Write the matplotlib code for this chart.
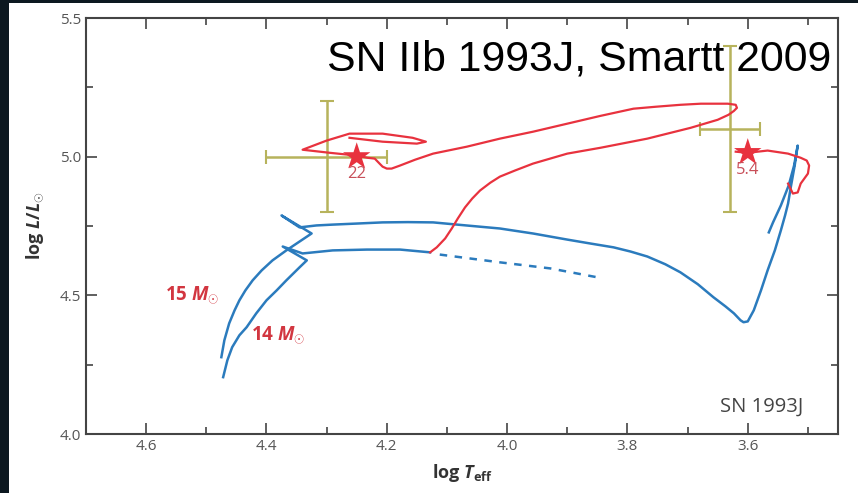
import matplotlib
matplotlib.use("Agg")
import matplotlib.pyplot as plt
from matplotlib.patches import Rectangle
from matplotlib.ticker import MultipleLocator

plt.rcParams["font.family"] = ["Open Sans", "DejaVu Sans"]
plt.rcParams["mathtext.fontset"] = "custom"
plt.rcParams["mathtext.rm"] = "Open Sans:bold"
plt.rcParams["mathtext.it"] = "Open Sans:bold:italic"
plt.rcParams["mathtext.bf"] = "Open Sans:bold"

# 15 Msun single-star track (log Teff, log L)
t15 = [4.475, 4.47, 4.462, 4.453, 4.445, 4.435, 4.423, 4.408, 4.39, 4.367,
       4.345, 4.325, 4.375, 4.345, 4.317, 4.29, 4.248, 4.207, 4.165, 4.123,
       4.068, 4.012, 3.957, 3.90, 3.862, 3.823, 3.795, 3.767, 3.737, 3.712,
       3.683, 3.657, 3.637, 3.623, 3.612, 3.607, 3.60, 3.59, 3.578, 3.567,
       3.555, 3.545, 3.538, 3.533, 3.528, 3.522, 3.517, 3.523, 3.532, 3.545,
       3.558, 3.565]
l15 = [4.277, 4.338, 4.399, 4.446, 4.482, 4.518, 4.554, 4.590, 4.626, 4.662,
       4.694, 4.723, 4.788, 4.745, 4.752, 4.755, 4.759, 4.763, 4.764, 4.763,
       4.752, 4.741, 4.723, 4.701, 4.687, 4.673, 4.658, 4.640, 4.612, 4.583,
       4.540, 4.493, 4.460, 4.435, 4.410, 4.403, 4.406, 4.446, 4.518, 4.590,
       4.662, 4.734, 4.788, 4.831, 4.896, 4.968, 5.040, 4.968, 4.896, 4.824,
       4.763, 4.727]

# 14 Msun track up to the onset of mass transfer
t14 = [4.472, 4.465, 4.457, 4.445, 4.433, 4.417, 4.40, 4.383, 4.367, 4.345,
       4.333, 4.373, 4.34, 4.29, 4.233, 4.178, 4.128]
l14 = [4.205, 4.266, 4.313, 4.356, 4.385, 4.435, 4.482, 4.518, 4.554, 4.601,
       4.626, 4.676, 4.651, 4.662, 4.665, 4.665, 4.655]

# 14 Msun continuation without a companion
t14_single = [4.112, 4.012, 3.928, 3.85]
l14_single = [4.647, 4.619, 4.597, 4.565]

# binary track
t_bin = [4.128, 4.117, 4.103, 4.092, 4.082, 4.07, 4.058, 4.045, 4.028, 4.012,
         3.987, 3.957, 3.90, 3.845, 3.767, 3.695, 3.65, 3.632, 3.623, 3.618,
         3.62, 3.633, 3.678, 3.712, 3.753, 3.79, 3.845, 3.90, 3.957, 4.012,
         4.067, 4.123, 4.153, 4.178, 4.192, 4.20, 4.207, 4.212, 4.22, 4.232,
         4.25, 4.295, 4.34, 4.30, 4.262, 4.207, 4.157, 4.135, 4.15, 4.207,
         4.262]
l_bin = [4.655, 4.673, 4.705, 4.741, 4.777, 4.817, 4.849, 4.878, 4.906, 4.928,
         4.95, 4.975, 5.011, 5.032, 5.065, 5.104, 5.133, 5.151, 5.165, 5.176,
         5.187, 5.191, 5.191, 5.187, 5.180, 5.173, 5.147, 5.119, 5.09, 5.065,
         5.036, 5.011, 4.989, 4.968, 4.957, 4.957, 4.964, 4.975, 4.993, 4.996,
         5.004, 5.014, 5.025, 5.058, 5.083, 5.083, 5.068, 5.054, 5.047, 5.054,
         5.068]

# binary companion near the red supergiant branch
t_rsg = [3.533, 3.525, 3.517, 3.512, 3.50, 3.498, 3.502, 3.512, 3.533, 3.567,
         3.60, 3.62]
l_rsg = [4.903, 4.867, 4.871, 4.903, 4.939, 4.968, 4.986, 4.996, 5.011, 5.022,
         5.014, 5.018]

# observed stars with error bars
obs_t = [4.30, 3.63]
obs_l = [5.00, 5.10]
obs_terr = [0.10, 0.05]
obs_lerr = [0.20, 0.30]

# model end points
star_t = [4.25, 3.60]
star_l = [5.00, 5.015]
star_labels = ["22", "5.4"]

blue = "#2b7bbd"
red = "#e8323e"
olive = "#b7b35c"

fig = plt.figure(figsize=(8.58, 4.93), dpi=100)
fig.patch.set_facecolor("#0c1820")
fig.add_artist(Rectangle((9 / 858, 0), 1, 1 - 3 / 493, transform=fig.transFigure,
                         facecolor="white", edgecolor="none", zorder=0))

ax = fig.add_axes([86 / 858, 1 - 434 / 493, 752 / 858, 416 / 493])
ax.set_facecolor("white")

ax.errorbar(obs_t, obs_l, xerr=obs_terr, yerr=obs_lerr, fmt="none",
            ecolor=olive, elinewidth=1.8, capsize=5, capthick=1.5, zorder=2)

ax.plot(t15, l15, color=blue, lw=1.8, zorder=3)
ax.plot(t14, l14, color=blue, lw=1.8, zorder=3)
ax.plot(t14_single, l14_single, color=blue, lw=1.8, ls=(0, (3, 3)), zorder=3)
ax.plot(t_bin, l_bin, color=red, lw=1.6, zorder=4)
ax.plot(t_rsg, l_rsg, color=red, lw=1.6, zorder=4)

ax.scatter(star_t, star_l, marker="*", s=430, color=red, edgecolor="none", zorder=5)
for t, l, s in zip(star_t, star_l, star_labels):
    ax.text(t, l - 0.035, s, color="#c8505a", fontsize=12, ha="center", va="top",
            zorder=5)

ax.text(4.523, 4.50, r"15 $M_{\odot}$", color="#d23640", fontsize=13.5,
        fontweight="bold", ha="center", va="center")
ax.text(4.38, 4.356, r"14 $M_{\odot}$", color="#d23640", fontsize=13.5,
        fontweight="bold", ha="center", va="center")
ax.text(3.577, 4.097, "SN 1993J", color="#444444", fontsize=14.5, ha="center",
        va="center")

ax.set_xlim(4.70, 3.45)
ax.set_ylim(4.0, 5.5)
ax.xaxis.set_major_locator(MultipleLocator(0.2))
ax.xaxis.set_minor_locator(MultipleLocator(0.1))
ax.yaxis.set_major_locator(MultipleLocator(0.5))
ax.yaxis.set_minor_locator(MultipleLocator(0.25))
ax.tick_params(which="both", direction="in", top=True, right=True,
               colors="#444444", labelcolor="#555555", labelsize=11, width=1.2)
ax.tick_params(which="major", length=8)
ax.tick_params(which="minor", length=5)
ax.xaxis.set_major_formatter(plt.FormatStrFormatter("%.1f"))
ax.yaxis.set_major_formatter(plt.FormatStrFormatter("%.1f"))
for sp in ax.spines.values():
    sp.set_color("#444444")
    sp.set_linewidth(1.5)

ax.set_xlabel(r"log $T_{\rm eff}$", fontsize=13, fontweight="bold", color="#333333",
              labelpad=6)
ax.set_ylabel(r"log $L/L_{\odot}$", fontsize=13, fontweight="bold", color="#333333",
              labelpad=10)

fig.text(327 / 858, 1 - 70 / 493, "SN IIb 1993J, Smartt 2009", fontsize=30.8,
         family="Liberation Sans", color="black", va="baseline", ha="left")

fig.savefig("out.png", dpi=100, facecolor=fig.get_facecolor())
